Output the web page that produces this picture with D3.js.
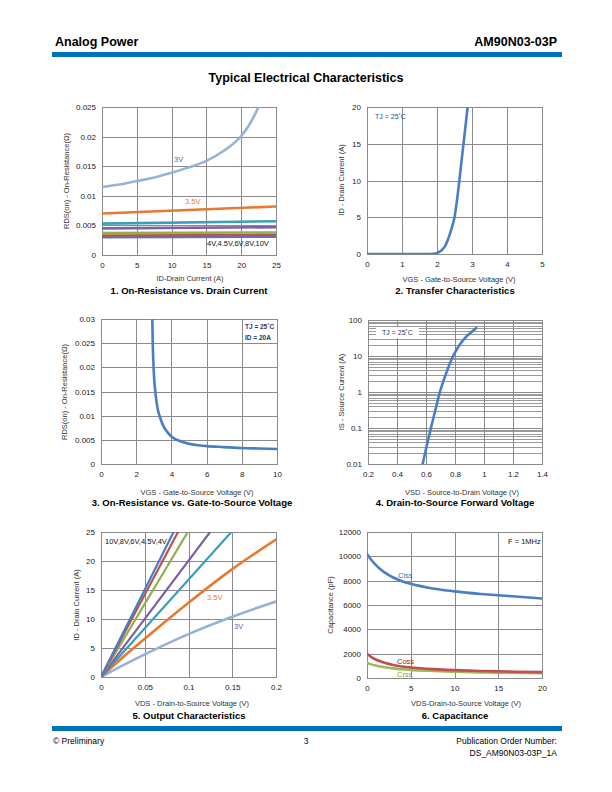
<!DOCTYPE html>
<html><head><meta charset="utf-8">
<script src="https://cdn.jsdelivr.net/npm/d3@7/dist/d3.min.js"></script>
<style>body{margin:0;background:#fff}svg{display:block}text{font-family:"Liberation Sans",Arial,sans-serif}</style>
</head><body><svg id="page" width="612" height="792"></svg>
<script>
// ---------- DATA ----------
// Chart 1: RDS(on) vs ID
const c1_id = [0, 2.5, 5, 7.5, 10, 12.5, 15, 17.5, 20, 21, 22, 22.6];
const c1_3V = [0.0115, 0.0119, 0.0125, 0.0131, 0.0139, 0.0148, 0.0159, 0.0176, 0.0201, 0.0217, 0.0238, 0.0253];
const c1_idLin = [0, 25];
const c1_35V = [0.0070, 0.0082];
const c1_4V = [0.0053, 0.0057];
const c1_45V = [0.0045, 0.0047];
const c1_6V = [0.0037, 0.0038];
const c1_8V = [0.0033, 0.0034];
const c1_10V = [0.0030, 0.0031];
const c1_xTicks = [0, 5, 10, 15, 20, 25];
const c1_yTicks = [0, 0.005, 0.01, 0.015, 0.02, 0.025];

// Chart 2: Transfer
const c2_vgs = [0, 1, 1.8, 1.95, 2.05, 2.15, 2.22, 2.3, 2.4, 2.5, 2.6, 2.7, 2.8, 2.88];
const c2_id = [0, 0, 0, 0.05, 0.25, 0.6, 1.0, 1.8, 3.2, 5.0, 8.4, 12.6, 16.8, 20.2];
const c2_xTicks = [0, 1, 2, 3, 4, 5];
const c2_yTicks = [0, 5, 10, 15, 20];

// Chart 3: RDS(on) vs VGS
const c3_vgs = [2.91, 2.94, 3.0, 3.1, 3.2, 3.35, 3.5, 3.75, 4.0, 4.5, 5, 6, 7, 8, 9, 10];
const c3_rds = [0.031, 0.025, 0.019, 0.0145, 0.0118, 0.0097, 0.0082, 0.0067, 0.0057, 0.0047, 0.0042, 0.0037, 0.0035, 0.0033, 0.0032, 0.0031];
const c3_xTicks = [0, 2, 4, 6, 8, 10];
const c3_yTicks = [0, 0.005, 0.01, 0.015, 0.02, 0.025, 0.03];

// Chart 4: Forward voltage
const c4_vsd = [0.577, 0.605, 0.634, 0.665, 0.696, 0.735, 0.787, 0.83, 0.867, 0.91, 0.947];
const c4_is = [0.01, 0.032, 0.1, 0.32, 1, 3, 10, 20, 31, 45, 60];
const c4_xTicks = [0.2, 0.4, 0.6, 0.8, 1, 1.2, 1.4];
const c4_yTicks = [0.01, 0.1, 1, 10, 100];

// Chart 5: Output characteristics
const c5_vdsLin = [0, 0.083, 0.0855, 0.088, 0.0992, 0.1247, 0.149];
const c5_vds = [0, 0.025, 0.05, 0.1, 0.15, 0.2];
const c5_10V = [0, 25];
const c5_8V = [0, 25];
const c5_6V = [0, 25];
const c5_45V = [0, 25];
const c5_4V = [0, 25];
const c5_35V = [0, 3.4, 6.6, 12.8, 18.6, 23.7];
const c5_3V = [0, 2.0, 3.9, 7.4, 10.4, 13.0];
const c5_xTicks = [0, 0.05, 0.1, 0.15, 0.2];
const c5_yTicks = [0, 5, 10, 15, 20, 25];

// Chart 6: Capacitance
const c6_vds = [0, 0.5, 1, 1.5, 2, 3, 4, 5, 7, 10, 13, 15, 17, 20];
const c6_ciss = [10200, 9700, 9300, 8950, 8680, 8260, 7960, 7740, 7420, 7120, 6910, 6800, 6700, 6540];
const c6_coss = [2000, 1720, 1520, 1370, 1250, 1070, 950, 860, 750, 645, 575, 545, 515, 480];
const c6_crss = [1250, 1120, 1020, 940, 880, 790, 720, 665, 590, 515, 465, 440, 415, 385];
const c6_xTicks = [0, 5, 10, 15, 20];
const c6_yTicks = [0, 2000, 4000, 6000, 8000, 10000, 12000];

// ---------- DRAWING ----------
const svg = d3.select("#page");
const BLUE = "#0070C0";

// header
svg.append("text").attr("x", 55).attr("y", 46).attr("font-size", 12.5).attr("font-weight", "bold").text("Analog Power");
svg.append("text").attr("x", 557).attr("y", 46).attr("text-anchor", "end").attr("font-size", 12.5).attr("font-weight", "bold").text("AM90N03-03P");
svg.append("rect").attr("x", 52).attr("y", 52).attr("width", 510).attr("height", 5).attr("fill", BLUE);
svg.append("text").attr("x", 306).attr("y", 82).attr("text-anchor", "middle").attr("font-size", 12.5).attr("font-weight", "bold").text("Typical Electrical Characteristics");

// footer
svg.append("rect").attr("x", 52).attr("y", 726).attr("width", 510).attr("height", 5).attr("fill", BLUE);
svg.append("text").attr("x", 53).attr("y", 744).attr("font-size", 8.5).text("© Preliminary");
svg.append("text").attr("x", 306).attr("y", 744).attr("text-anchor", "middle").attr("font-size", 8.5).text("3");
svg.append("text").attr("x", 557).attr("y", 744).attr("text-anchor", "end").attr("font-size", 8.5).text("Publication Order Number:");
svg.append("text").attr("x", 557).attr("y", 756).attr("text-anchor", "end").attr("font-size", 8.5).text("DS_AM90N03-03P_1A");

let clipN = 0;
function chart(cfg) {
  const g = svg.append("g");
  const x = d3.scaleLinear().domain(cfg.xDomain).range([cfg.L, cfg.R]);
  const y = (cfg.yLog ? d3.scaleLog() : d3.scaleLinear()).domain(cfg.yDomain).range([cfg.B, cfg.T]);
  const grid = "#8a8a8a";
  if (cfg.yLog) {
    const minors = [];
    for (let d = cfg.yDomain[0]; d < cfg.yDomain[1] * 0.999; d *= 10)
      for (let k = 2; k <= 9; k++) minors.push(d * k);
    g.selectAll(null).data(minors).join("line")
      .attr("x1", cfg.L).attr("x2", cfg.R).attr("y1", d => Math.round(y(d)) + 0.5).attr("y2", d => Math.round(y(d)) + 0.5)
      .attr("stroke", "#8f8f8f").attr("stroke-width", 0.9);
  }
  g.selectAll(null).data(cfg.xTicks).join("line")
    .attr("x1", d => Math.round(x(d)) + 0.5).attr("x2", d => Math.round(x(d)) + 0.5).attr("y1", cfg.T).attr("y2", cfg.B)
    .attr("stroke", grid).attr("stroke-width", 1);
  g.selectAll(null).data(cfg.yTicks).join("line")
    .attr("x1", cfg.L).attr("x2", cfg.R).attr("y1", d => Math.round(y(d)) + 0.5).attr("y2", d => Math.round(y(d)) + 0.5)
    .attr("stroke", grid).attr("stroke-width", 1);
  g.append("rect").attr("x", cfg.L + 0.5).attr("y", cfg.T + 0.5).attr("width", cfg.R - cfg.L).attr("height", cfg.B - cfg.T)
    .attr("fill", "none").attr("stroke", grid).attr("stroke-width", 1);

  const xa = g.append("g").attr("transform", `translate(0,${cfg.B})`)
    .call(d3.axisBottom(x).tickValues(cfg.xTicks).tickFormat(cfg.xFmt || (d => d)).tickSize(0).tickPadding(7));
  const ya = g.append("g").attr("transform", `translate(${cfg.L},0)`)
    .call(d3.axisLeft(y).tickValues(cfg.yTicks).tickFormat(cfg.yFmt || (d => d)).tickSize(0).tickPadding(6));
  [xa, ya].forEach(a => {
    a.select(".domain").remove();
    a.selectAll("text").attr("font-size", 8).attr("fill", "#222").attr("font-family", "Liberation Sans, Arial, sans-serif");
  });

  const id = "clip" + (clipN++);
  svg.append("clipPath").attr("id", id).append("rect")
    .attr("x", cfg.L).attr("y", cfg.T).attr("width", cfg.R - cfg.L).attr("height", cfg.B - cfg.T);
  const pg = g.append("g").attr("clip-path", `url(#${id})`);
  cfg.series.forEach(s => {
    const pts = s.xs.map((v, i) => [v, s.ys[i]]);
    const line = d3.line().x(d => x(d[0])).y(d => y(d[1])).curve(d3.curveMonotoneX);
    pg.append("path").attr("d", line(pts)).attr("fill", "none")
      .attr("stroke", s.color).attr("stroke-width", s.w || 2.6).attr("stroke-linecap", "round");
  });
  (cfg.labels || []).forEach(l => {
    const t = g.append("text").attr("x", l.x).attr("y", l.y).attr("font-size", l.size || 7.5)
      .attr("font-family", "Open Sans, sans-serif").attr("font-weight", l.bold ? "bold" : "normal")
      .attr("text-anchor", l.anchor || "start").attr("fill", l.color).text(l.t);
    if (l.box) {
      const bb = t.node().getBBox();
      g.insert("rect", () => t.node()).attr("x", bb.x - 6).attr("y", bb.y - 2)
        .attr("width", bb.width + 12).attr("height", bb.height + 4).attr("fill", "#fff");
    }
  });
  g.append("text").attr("x", cfg.xtX).attr("y", cfg.xtY).attr("text-anchor", "middle").attr("font-size", 7.5).attr("fill", "#333").text(cfg.xTitle);
  g.append("text").attr("transform", `translate(${cfg.ytX},${cfg.ytY}) rotate(-90)`).attr("text-anchor", "middle").attr("font-size", 7.5).attr("fill", "#333").text(cfg.yTitle);
  g.append("text").attr("x", cfg.capX).attr("y", cfg.capY).attr("text-anchor", "middle").attr("font-size", 9.5).attr("font-weight", "bold").text(cfg.caption);
}

const C = {lblue: "#95B3D7", blue: "#4A7EC4", red: "#C0504D", green: "#8FB050", purple: "#7F5FA5", teal: "#3AA0B6", orange: "#E9782F"};

chart({
  L: 102, R: 276, T: 107, B: 255, xDomain: [0, 25], yDomain: [0, 0.025], xTicks: c1_xTicks, yTicks: c1_yTicks,
  series: [
    {xs: c1_idLin, ys: c1_10V, color: C.blue},
    {xs: c1_idLin, ys: c1_8V, color: C.red},
    {xs: c1_idLin, ys: c1_6V, color: C.green},
    {xs: c1_idLin, ys: c1_45V, color: C.purple},
    {xs: c1_idLin, ys: c1_4V, color: C.teal},
    {xs: c1_idLin, ys: c1_35V, color: C.orange},
    {xs: c1_id, ys: c1_3V, color: C.lblue}
  ],
  labels: [
    {t: "3V", x: 174, y: 162, color: "#3E6DB5"},
    {t: "3.5V", x: 185, y: 204, color: C.orange},
    {t: "4V,4.5V,6V,8V,10V", x: 207, y: 246, color: "#111"}
  ],
  xTitle: "ID-Drain Current (A)", xtX: 190, xtY: 281,
  yTitle: "RDS(on) - On-Resistance(Ω)", ytX: 69, ytY: 181,
  caption: "1. On-Resistance vs. Drain Current", capX: 189, capY: 294
});

chart({
  L: 367, R: 542, T: 107, B: 254, xDomain: [0, 5], yDomain: [0, 20], xTicks: c2_xTicks, yTicks: c2_yTicks,
  series: [{xs: c2_vgs, ys: c2_id, color: C.blue}],
  labels: [{t: "TJ = 25˚C", x: 375, y: 119, color: "#1F4E8C", size: 7}],
  xTitle: "VGS - Gate-to-Source Voltage (V)", xtX: 459, xtY: 282,
  yTitle: "ID - Drain Current (A)", ytX: 344, ytY: 180,
  caption: "2. Transfer Characteristics", capX: 455, capY: 294
});

chart({
  L: 101, R: 277, T: 319, B: 464, xDomain: [0, 10], yDomain: [0, 0.03], xTicks: c3_xTicks, yTicks: c3_yTicks,
  series: [{xs: c3_vgs, ys: c3_rds, color: C.blue}],
  labels: [
    {t: "TJ = 25˚C", x: 245, y: 329, color: "#1F3864", bold: true, size: 6.5},
    {t: "ID = 20A", x: 245, y: 340, color: "#1F3864", bold: true, size: 6.5}
  ],
  xTitle: "VGS - Gate-to-Source Voltage (V)", xtX: 197, xtY: 495,
  yTitle: "RDS(on) - On-Resistance(Ω)", ytX: 67, ytY: 392,
  caption: "3. On-Resistance vs. Gate-to-Source Voltage", capX: 192, capY: 506
});

chart({
  L: 368, R: 542, T: 320, B: 464, xDomain: [0.2, 1.4], yDomain: [0.01, 100], yLog: true,
  xTicks: c4_xTicks, yTicks: c4_yTicks, yFmt: d => String(d),
  series: [{xs: c4_vsd, ys: c4_is, color: C.blue}],
  labels: [{t: "TJ = 25˚C", x: 382, y: 335, color: "#1F3864", size: 7, box: true}],
  xTitle: "VSD - Source-to-Drain Voltage (V)", xtX: 462, xtY: 495,
  yTitle: "IS - Source Current (A)", ytX: 344, ytY: 392,
  caption: "4. Drain-to-Source Forward Voltage", capX: 455, capY: 506
});

chart({
  L: 101, R: 276, T: 532, B: 677, xDomain: [0, 0.2], yDomain: [0, 25], xTicks: c5_xTicks, yTicks: c5_yTicks,
  series: [
    {xs: c5_vds, ys: c5_3V, color: C.lblue},
    {xs: c5_vds, ys: c5_35V, color: C.orange},
    {xs: [c5_vdsLin[0], c5_vdsLin[6]], ys: c5_4V, color: C.teal, w: 2.2},
    {xs: [c5_vdsLin[0], c5_vdsLin[5]], ys: c5_45V, color: C.purple, w: 2.2},
    {xs: [c5_vdsLin[0], c5_vdsLin[4]], ys: c5_6V, color: C.green, w: 2.2},
    {xs: [c5_vdsLin[0], c5_vdsLin[3]], ys: c5_8V, color: C.red, w: 2.2},
    {xs: [c5_vdsLin[0], c5_vdsLin[1]], ys: c5_10V, color: C.blue, w: 2.2}
  ],
  labels: [
    {t: "10V,8V,6V,4.5V,4V", x: 105, y: 544, color: "#111"},
    {t: "3.5V", x: 207, y: 600, color: C.orange},
    {t: "3V", x: 234, y: 629, color: "#3E6DB5"}
  ],
  xTitle: "VDS - Drain-to-Source Voltage (V)", xtX: 192, xtY: 706,
  yTitle: "ID - Drain Current (A)", ytX: 79, ytY: 605,
  caption: "5. Output Characteristics", capX: 189, capY: 719
});

chart({
  L: 367, R: 542, T: 532, B: 678, xDomain: [0, 20], yDomain: [0, 12000], xTicks: c6_xTicks, yTicks: c6_yTicks,
  series: [
    {xs: c6_vds, ys: c6_crss, color: "#9BBB59"},
    {xs: c6_vds, ys: c6_coss, color: C.red},
    {xs: c6_vds, ys: c6_ciss, color: C.blue}
  ],
  labels: [
    {t: "F = 1MHz", x: 508, y: 544, color: "#111"},
    {t: "Ciss", x: 398, y: 578, color: "#3E6DB5"},
    {t: "Coss", x: 397, y: 664, color: "#C00000"},
    {t: "Crss", x: 397, y: 677, color: "#7FA33A"}
  ],
  xTitle: "VDS-Drain-to-Source Voltage (V)", xtX: 466, xtY: 706,
  yTitle: "Capacitance (pF)", ytX: 333, ytY: 605,
  caption: "6. Capacitance", capX: 455, capY: 719
});
</script></body></html>
